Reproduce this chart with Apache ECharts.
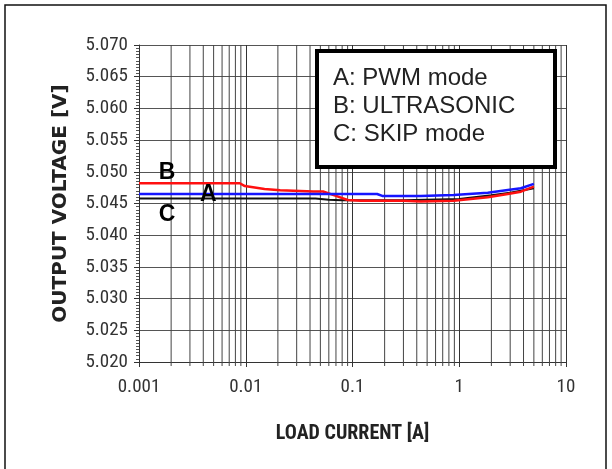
<!DOCTYPE html>
<html>
<head>
<meta charset="utf-8">
<script src="https://cdn.jsdelivr.net/npm/echarts@6/dist/echarts.min.js"></script>
<style>
  html, body { margin: 0; padding: 0; background: #fff; }
  #chart { width: 612px; height: 469px; }
</style>
</head>
<body>
<div id="chart"></div>
<script>
// ---- data ----
const xTickLabels = ['0.001', '0.01', '0.1', '1', '10'];
const xMinorTicks = [0.002,0.003,0.004,0.005,0.006,0.007,0.008,0.009,
                     0.02,0.03,0.04,0.05,0.06,0.07,0.08,0.09,
                     0.2,0.3,0.4,0.5,0.6,0.7,0.8,0.9,
                     2,3,4,5,6,7,8,9];

// A: PWM mode (blue)
const pwmCurrent = [0.001, 0.01, 0.05, 0.17, 0.19, 0.3, 0.435, 0.887, 1.85, 2.85, 3.78, 5.0];
const pwmVoltage = [5.0465, 5.0465, 5.0465, 5.0465, 5.0462, 5.0462, 5.0462, 5.04634, 5.0467, 5.04713, 5.0474, 5.0481];

// B: ULTRASONIC (red)
const ultraCurrent = [0.001, 0.0088, 0.0098, 0.015, 0.021, 0.043, 0.053, 0.07, 0.09, 0.12, 0.3, 0.435, 0.887, 1.85, 2.85, 3.78, 5.0];
const ultraVoltage = [5.0482, 5.0482, 5.04775, 5.0473, 5.0471, 5.0469, 5.0469, 5.0462, 5.04556, 5.04545, 5.04545, 5.0453, 5.04544, 5.0460, 5.0465, 5.04686, 5.04765];

// C: SKIP mode (black)
const skipCurrent = [0.001, 0.045, 0.06, 0.08, 0.3, 1.0, 2.0, 3.0, 5.0];
const skipVoltage = [5.0458, 5.0458, 5.0456, 5.0455, 5.0455, 5.0457, 5.0463, 5.0467, 5.0474];

// Curve tags placed on the chart
const tagNames = ['B', 'A', 'C'];
const tagCurrent = [0.00183, 0.00445, 0.00183];
const tagVoltage = [5.0498, 5.04634, 5.04319];

const legendLines = ['A: PWM mode', 'B: ULTRASONIC', 'C: SKIP mode'];

const pair = (xs, ys) => xs.map((x, i) => [x, ys[i]]);

const narrow = "'Liberation Sans Narrow', 'Roboto Condensed', 'DejaVu Sans Condensed', 'Arial Narrow', 'Liberation Sans', sans-serif";

const chart = echarts.init(document.getElementById('chart'), null, { renderer: 'canvas' });

chart.setOption({
  animation: false,
  backgroundColor: '#fff',
  grid: { left: 139, right: 46, top: 45, bottom: 107, containLabel: false },
  xAxis: {
    type: 'log',
    logBase: 10,
    min: 0.001,
    max: 10,
    name: 'LOAD CURRENT [A]',
    nameLocation: 'middle',
    nameGap: 62,
    nameTextStyle: { fontFamily: narrow, fontStyle: 'condensed', fontWeight: 'bold', fontSize: 20, color: '#222' },
    axisLine: { show: true, lineStyle: { color: '#333', width: 1 } },
    axisTick: { show: true, inside: false, length: 5, lineStyle: { color: '#333' } },
    axisLabel: {
      fontFamily: narrow, fontStyle: 'condensed', fontSize: 19, color: '#333', margin: 16,
      formatter: v => xTickLabels[Math.round(Math.log10(v)) + 3]
    },
    splitLine: { show: true, lineStyle: { color: '#333', width: 1 } },
    minorTick: { show: false },
    minorSplitLine: { show: false }
  },
  yAxis: {
    type: 'value',
    min: 5.020,
    max: 5.070,
    interval: 0.005,
    name: 'OUTPUT VOLTAGE [V]',
    nameLocation: 'middle',
    nameGap: 68,
    nameRotate: 90,
    nameTextStyle: { fontFamily: "'DejaVu Sans', sans-serif", fontWeight: 'bold', fontSize: 20, color: '#222' },
    axisLine: { show: true, lineStyle: { color: '#333', width: 1 } },
    axisTick: { show: true, inside: false, length: 5, lineStyle: { color: '#333' } },
    minorTick: { show: true, splitNumber: 10, length: 3, lineStyle: { color: '#555' } },
    axisLabel: {
      fontFamily: narrow, fontStyle: 'condensed', fontSize: 19, color: '#333', margin: 11,
      formatter: v => v.toFixed(3)
    },
    splitLine: { show: true, lineStyle: { color: '#555', width: 1 } }
  },
  series: [
    {
      // minor (2..9) vertical grid lines of the log axis
      type: 'custom',
      silent: true,
      z: 1,
      data: xMinorTicks.map(v => [v, 5.020]),
      encode: { x: 0, y: 1 },
      renderItem: (params, api) => {
        const p = api.coord([api.value(0), api.value(1)]);
        const cs = params.coordSys;
        return {
          type: 'line',
          shape: { x1: p[0], y1: cs.y, x2: p[0], y2: cs.y + cs.height + 4 },
          style: { stroke: '#444', lineWidth: 1 }
        };
      }
    },
    {
      name: 'C: SKIP mode',
      type: 'line',
      data: pair(skipCurrent, skipVoltage),
      showSymbol: false,
      z: 3,
      lineStyle: { color: '#111', width: 2 }
    },
    {
      name: 'B: ULTRASONIC',
      type: 'line',
      data: pair(ultraCurrent, ultraVoltage),
      showSymbol: false,
      z: 4,
      lineStyle: { color: '#ff1010', width: 2.5 }
    },
    {
      name: 'A: PWM mode',
      type: 'line',
      data: pair(pwmCurrent, pwmVoltage),
      showSymbol: false,
      z: 5,
      lineStyle: { color: '#1515ff', width: 2.5 }
    },
    {
      // curve tags A / B / C
      type: 'scatter',
      z: 6,
      symbolSize: 0,
      itemStyle: { opacity: 1 },
      data: tagNames.map((n, i) => ({ value: [tagCurrent[i], tagVoltage[i]], name: n })),
      label: {
        show: true,
        position: 'inside',
        formatter: p => p.name,
        fontFamily: "'Liberation Sans', Arial, sans-serif",
        fontWeight: 'bold',
        fontSize: 23,
        color: '#000',
        opacity: 1
      }
    }
  ],
  graphic: [
    {
      type: 'rect',
      shape: { x: 5, y: 5, width: 601, height: 480 },
      style: { fill: 'none', stroke: '#111', lineWidth: 1.5 },
      silent: true,
      z: 0
    },
    {
      type: 'rect',
      z: 100,
      shape: { x: 317, y: 51, width: 238, height: 116 },
      style: { fill: '#fff', stroke: '#000', lineWidth: 4 }
    },
    ...legendLines.map((t, i) => ({
      type: 'text',
      z: 101,
      x: 333,
      y: 78 + i * 28,
      style: {
        text: t,
        fontFamily: "'Liberation Sans', Arial, sans-serif",
        fontSize: 24,
        fill: '#222',
        verticalAlign: 'middle',
        align: 'left'
      }
    }))
  ]
});
</script>
</body>
</html>
